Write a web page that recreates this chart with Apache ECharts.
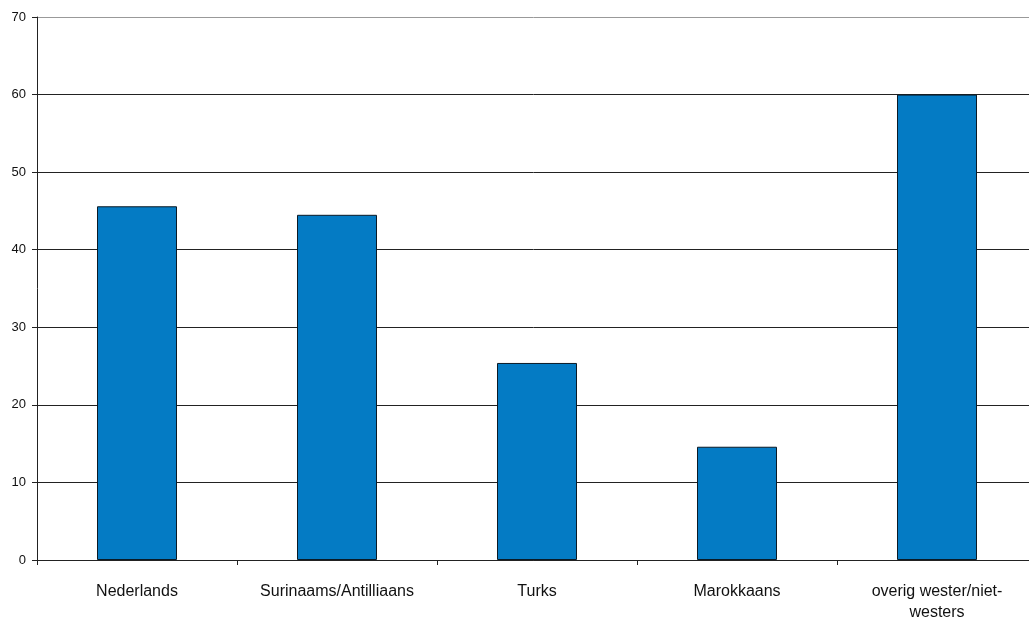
<!DOCTYPE html>
<html><head><meta charset="utf-8">
<script src="https://cdn.jsdelivr.net/npm/echarts@6/dist/echarts.min.js"></script>
<style>html,body{margin:0;padding:0;background:#fff}#c{width:1029px;height:622px}</style>
</head><body><div id="c"></div>
<script>
const categories = ["Nederlands", "Surinaams/Antilliaans", "Turks", "Marokkaans", "overig wester/niet-westers"];
const values = [45.6, 44.5, 25.4, 14.6, 60.0];
const yTicks = [0, 10, 20, 30, 40, 50, 60, 70];

const chart = echarts.init(document.getElementById('c'), null, {renderer: 'canvas'});
chart.setOption({
  animation: false,
  backgroundColor: '#fff',
  grid: {left: 37, width: 1000, top: 17, height: 543, containLabel: false, outerBoundsMode: 'none'},
  xAxis: {
    type: 'category', data: categories,
    axisLine: {lineStyle: {color: '#222', width: 1}},
    axisTick: {show: true, length: 5, lineStyle: {color: '#222'}},
    axisLabel: {
      color: '#111', fontFamily: 'Liberation Sans, Arial', fontSize: 16, margin: 21, lineHeight: 21,
      interval: 0,
      formatter: v => v.replace('niet-', 'niet-\n')
    }
  },
  yAxis: {
    type: 'value', min: yTicks[0], max: yTicks[yTicks.length - 1], interval: 10,
    axisLine: {show: true, lineStyle: {color: '#222'}},
    axisTick: {show: true, length: 5, lineStyle: {color: '#222'}},
    axisLabel: {color: '#111', fontFamily: 'Liberation Sans, Arial', fontSize: 13, margin: 11},
    splitLine: {show: true, lineStyle: {color: ['#222', '#222', '#222', '#222', '#222', '#222', '#222', '#999'], width: 1}}
  },
  series: [{
    type: 'bar', data: values, barWidth: '40%',
    itemStyle: {color: '#047bc4', borderColor: '#0a1a26', borderWidth: 1}
  }]
});
</script></body></html>
